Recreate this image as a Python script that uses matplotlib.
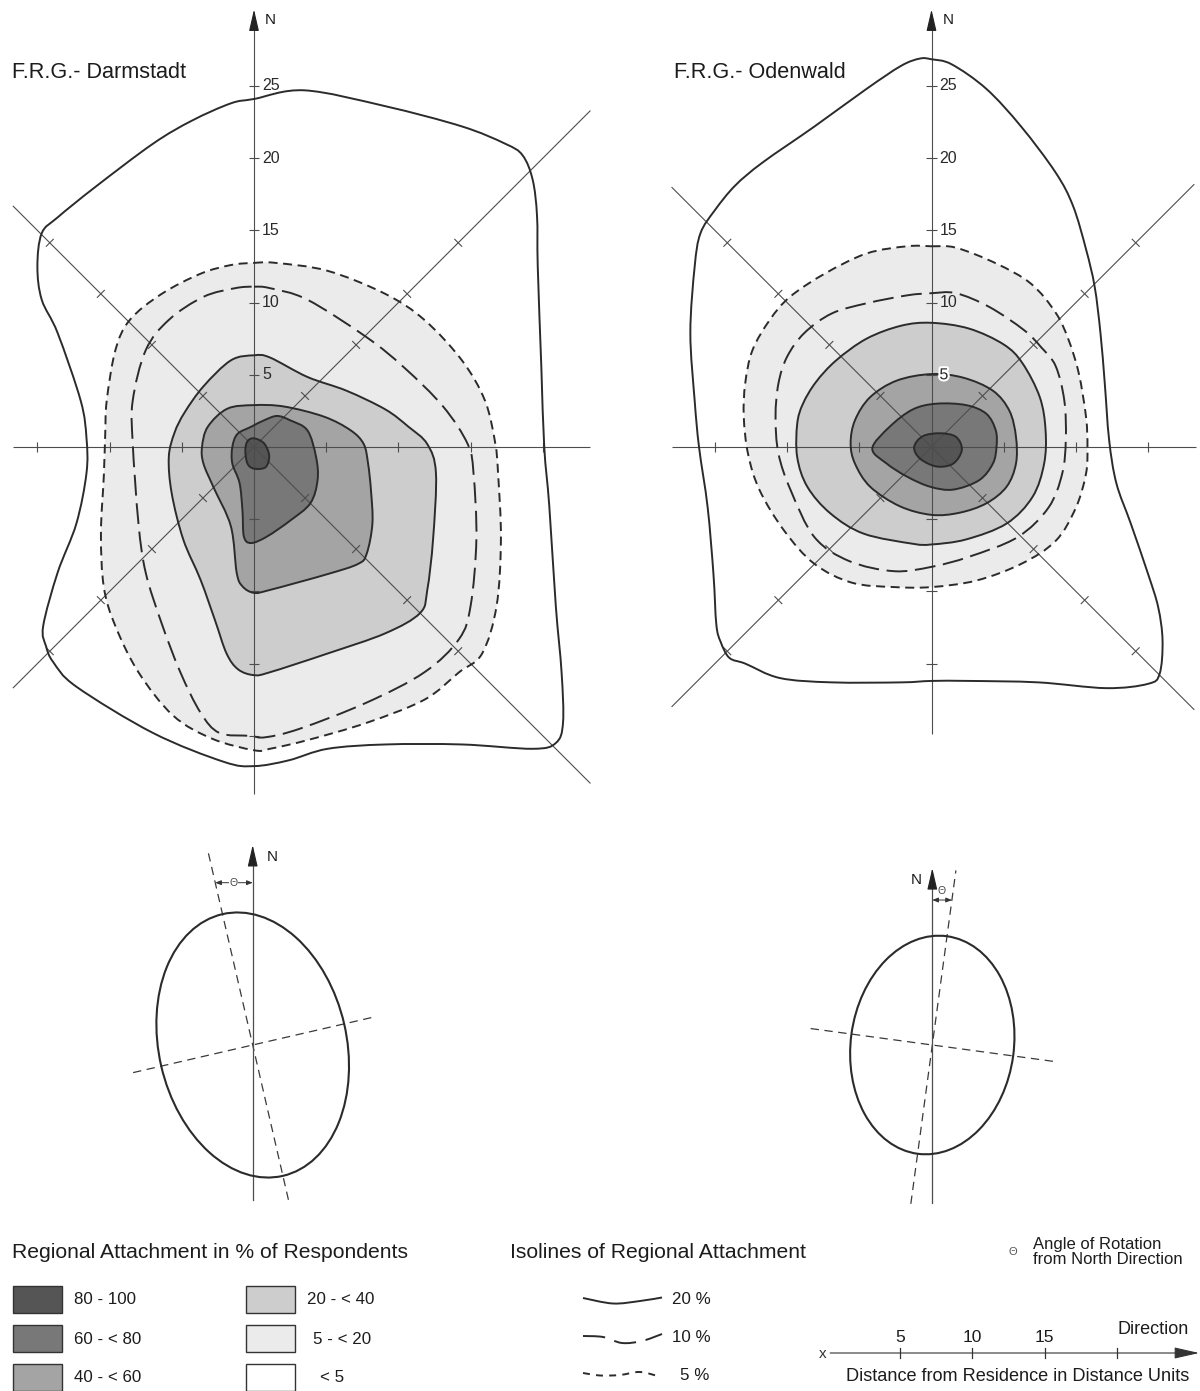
import numpy as np
import matplotlib
matplotlib.use('Agg')
import matplotlib.pyplot as plt
from matplotlib.path import Path
from matplotlib.patches import PathPatch, Ellipse, Rectangle
import matplotlib.patheffects as pe

plt.rcParams['font.family'] = ['Liberation Sans', 'DejaVu Sans']
plt.rcParams['lines.scale_dashes'] = False

W, H = 1200, 1391
S = 14.44  # pixels per distance unit

# ---------------- data (distance units: east, north) ----------------
DA_OUTER = [(0.0, 24.1), (3.5, 24.7), (9.1, 23.6), (14.4, 22.2), (17.4, 21.0), (18.6, 20.2),
            (19.3, 18.5), (19.6, 16.0), (19.65, 12.5), (19.9, 5.5), (20.1, 0.0), (20.45, -4.1),
            (20.9, -11.0), (21.3, -15.6), (21.4, -19.1), (20.9, -20.5), (19.3, -20.9), (14.4, -20.6),
            (9.1, -20.6), (5.1, -20.9), (2.4, -21.7), (0.0, -22.1), (-2.1, -21.8), (-7.0, -19.8),
            (-12.3, -16.6), (-13.9, -14.9), (-14.4, -13.8), (-14.6, -12.4), (-13.6, -8.7),
            (-12.3, -5.3), (-11.6, -1.8), (-11.6, 0.6), (-12.0, 3.2), (-13.6, 7.9), (-14.7, 10.2),
            (-15.0, 12.5), (-14.7, 14.8), (-13.6, 15.9), (-11.0, 18.0), (-7.0, 21.0), (-4.3, 22.6),
            (-1.6, 23.8)]
DA_ISO5 = [(0.0, 12.75), (1.5, 12.75), (5.1, 12.2), (9.1, 10.6), (11.8, 8.8), (14.4, 6.0),
           (16.0, 3.2), (16.7, 0.3), (16.9, -1.8), (17.1, -6.4), (16.8, -11.0), (15.8, -14.3),
           (14.2, -15.6), (11.8, -17.5), (7.8, -19.1), (3.7, -20.3), (1.1, -20.9), (0.0, -21.0),
           (-2.9, -20.2), (-5.6, -18.6), (-8.0, -15.6), (-9.6, -12.4), (-10.4, -9.7),
           (-10.6, -6.0), (-10.4, -2.0), (-10.3, 1.0), (-10.2, 3.2), (-9.6, 6.7), (-8.6, 8.8),
           (-6.4, 10.6), (-3.7, 12.0), (-1.6, 12.6)]
DA_ISO10 = [(0.0, 11.1), (1.1, 11.0), (3.7, 10.2), (7.8, 7.6), (10.4, 5.5), (13.1, 2.8),
            (14.8, 0.2), (15.2, -1.8), (15.4, -6.4), (15.0, -11.0), (14.2, -13.3), (11.8, -15.6),
            (7.8, -17.7), (3.2, -19.5), (0.8, -20.1), (-0.3, -20.0), (-2.4, -19.8), (-3.7, -18.4),
            (-5.1, -15.6), (-6.4, -12.2), (-7.5, -8.7), (-8.0, -5.3), (-8.4, 0.3), (-8.4, 3.2),
            (-7.5, 6.7), (-5.9, 8.8), (-3.5, 10.4), (-1.3, 11.0)]
DA_B20 = [(0.0, 6.35), (1.1, 6.2), (3.7, 4.85), (6.4, 3.9), (9.1, 2.6), (10.7, 1.4), (12.0, 0.2),
          (12.6, -1.8), (12.4, -6.4), (12.0, -9.9), (11.5, -11.5), (9.1, -12.9), (5.1, -14.3),
          (1.1, -15.6), (0.0, -15.8), (-1.1, -15.4), (-1.9, -14.3), (-2.7, -12.0), (-3.7, -9.2),
          (-4.9, -6.4), (-5.7, -3.2), (-5.9, -0.7), (-5.5, 1.0), (-4.8, 2.4), (-3.5, 4.2),
          (-1.6, 6.0)]
DA_B40 = [(0.0, 2.9), (2.1, 2.8), (4.85, 2.1), (6.7, 1.15), (7.6, 0.2), (7.9, -1.15), (8.1, -3.0),
          (8.2, -5.3), (7.8, -7.4), (7.2, -8.1), (5.1, -8.8), (1.1, -9.9), (0.0, -10.1),
          (-0.8, -9.65), (-1.2, -8.7), (-1.6, -5.5), (-2.8, -2.8), (-3.5, -1.15), (-3.6, 0.0),
          (-3.2, 1.4), (-1.85, 2.65)]
DA_B60 = [(1.6, 2.15), (2.5, 1.85), (3.7, 1.15), (4.3, -0.7), (4.4, -2.3), (3.9, -3.9), (2.5, -5.1),
          (0.9, -6.2), (-0.2, -6.65), (-0.7, -6.2), (-0.8, -4.4), (-1.0, -2.5), (-1.5, -1.15),
          (-1.5, 0.0), (-1.15, 0.9), (-0.2, 1.4), (0.7, 1.85)]
DA_B80 = [(0.0, 0.6), (0.7, 0.25), (1.05, -0.6), (0.8, -1.4), (0.0, -1.5), (-0.45, -1.15),
          (-0.6, -0.25), (-0.45, 0.4)]

OD_OUTER = [(0.0, 26.85), (1.4, 26.5), (3.8, 24.8), (6.2, 22.2), (8.6, 19.0), (9.8, 16.7),
            (10.7, 13.7), (11.3, 11.1), (11.7, 7.9), (12.0, 4.4), (12.3, 0.5), (12.8, -2.5),
            (13.8, -5.3), (15.0, -8.8), (15.7, -11.1), (16.0, -13.4), (15.8, -15.7), (15.0, -16.4),
            (12.1, -16.7), (7.4, -16.3), (2.6, -16.2), (0.0, -16.2), (-2.1, -16.3), (-6.9, -16.3),
            (-10.5, -16.0), (-12.9, -15.0), (-14.0, -14.6), (-14.6, -13.5), (-14.9, -12.3),
            (-15.1, -8.8), (-15.5, -4.2), (-16.1, 0.0), (-16.4, 3.2), (-16.7, 7.9), (-16.4, 12.5),
            (-16.0, 14.8), (-15.0, 16.4), (-13.6, 18.1), (-11.7, 19.7), (-8.1, 22.2), (-4.5, 24.8),
            (-2.1, 26.4), (-0.8, 26.9)]
OD_ISO5 = [(0.0, 13.9), (1.7, 13.8), (4.5, 12.7), (6.9, 11.3), (8.6, 9.3), (9.5, 7.4), (10.2, 5.1),
           (10.7, 2.1), (10.8, 0.0), (10.7, -1.85), (10.0, -4.2), (8.6, -6.5), (6.2, -8.1),
           (3.1, -9.25), (0.0, -9.7), (-2.6, -9.7), (-5.5, -9.4), (-8.1, -8.1), (-10.2, -5.8),
           (-11.9, -3.0), (-12.7, -0.5), (-13.0, 2.1), (-12.9, 4.4), (-12.4, 6.7), (-11.2, 8.8),
           (-9.8, 10.4), (-7.4, 12.0), (-4.5, 13.4), (-1.7, 13.9)]
OD_ISO10 = [(0.0, 10.65), (1.7, 10.65), (4.0, 9.7), (6.4, 8.1), (7.6, 6.9), (8.6, 5.6), (9.2, 3.2),
            (9.3, 0.5), (9.05, -1.85), (8.1, -4.2), (5.95, -6.25), (2.6, -7.6), (0.0, -8.3),
            (-2.6, -8.6), (-5.7, -7.9), (-8.1, -6.25), (-9.75, -3.0), (-10.6, -0.45), (-10.8, 2.1),
            (-10.6, 4.4), (-10.0, 6.25), (-8.8, 7.9), (-6.9, 9.25), (-4.5, 9.95), (-1.7, 10.5)]
OD_B20 = [(0.0, 8.6), (2.6, 8.2), (5.0, 7.1), (6.3, 5.8), (7.5, 3.45), (7.9, 1.15), (7.8, -1.15),
          (7.0, -3.45), (5.2, -5.3), (2.4, -6.4), (0.0, -6.75), (-1.3, -6.7), (-4.7, -6.0),
          (-7.0, -4.6), (-8.6, -2.75), (-9.3, -0.7), (-9.3, 1.6), (-8.9, 3.0), (-8.0, 4.5),
          (-6.6, 6.0), (-4.5, 7.5), (-2.1, 8.4)]
OD_B40 = [(0.0, 5.05), (2.2, 4.8), (4.25, 3.9), (5.4, 2.5), (5.85, 0.7), (5.85, -1.15), (5.2, -2.75),
          (3.8, -3.9), (1.95, -4.55), (0.0, -4.7), (-2.2, -4.1), (-4.25, -2.75), (-5.3, -1.15),
          (-5.6, 0.25), (-5.3, 1.85), (-4.25, 3.45), (-2.4, 4.6)]
OD_B60 = [(0.35, 3.0), (2.4, 2.9), (3.8, 2.3), (4.45, 1.15), (4.5, 0.0), (4.25, -1.15), (3.3, -2.3),
          (1.5, -2.95), (-0.1, -2.75), (-1.7, -2.05), (-3.1, -1.15), (-4.1, -0.1), (-2.9, 1.4),
          (-1.3, 2.6)]
OD_B80 = [(0.6, 0.95), (1.7, 0.7), (2.1, -0.2), (1.5, -1.15), (0.35, -1.35), (-0.8, -0.8),
          (-1.2, 0.0), (-0.6, 0.75)]

# axis tick distances
DA_HTICKS = [-15, -10, -5, 5, 10, 15, 20]
DA_VTICKS = [-20, -15, -10, -5, 5, 10, 15, 20, 25]
OD_HTICKS = [-15, -10, -5, 5, 10, 15]
OD_VTICKS = [-15, -10, -5, 5, 10, 15, 20, 25]
DIAG_TICKS = [5, 10, 15, 20]
N_LABELS = [5, 10, 15, 20, 25]

# deviational ellipses: semi-major, semi-minor (distance units), rotation from north (deg, + = west)
DA_ELL = (9.3, 6.5, 13.0)
OD_ELL = (7.6, 5.65, -7.7)

# legend
SHADE_LABELS = ['80 - 100', '60 - < 80', '40 - < 60', '20 - < 40', '5 - < 20', '< 5']
SHADE_COLORS = ['#555555', '#787878', '#a4a4a4', '#cdcdcd', '#ebebeb', '#ffffff']
ISO_LABELS = ['20 %', '10 %', '5 %']
SCALE_TICKS = [5, 10, 15, 20]
SCALE_LABELS = ['5', '10', '15', '']

LINE_COL = '#2b2b2b'
AX_COL = '#4d4d4d'
TXT_COL = '#1c1c1c'
SHORT_DASH = (0, (6.5, 4.0))
LONG_DASH = (0, (15.0, 5.5))

fig = plt.figure(figsize=(W / 100, H / 100), dpi=100)


def px_axes(x0, y0, x1, y1, cx, cy):
    ax = fig.add_axes([x0 / W, 1 - y1 / H, (x1 - x0) / W, (y1 - y0) / H])
    ax.set_xlim((x0 - cx) / S, (x1 - cx) / S)
    ax.set_ylim((cy - y1) / S, (cy - y0) / S)
    ax.set_axis_off()
    return ax


def smooth_path(pts, closed=True):
    P = np.asarray(pts, float)
    n = len(P)
    verts = [P[0]]
    codes = [Path.MOVETO]
    rng = range(n) if closed else range(n - 1)
    for i in rng:
        if closed:
            p0, p1, p2, p3 = P[(i - 1) % n], P[i], P[(i + 1) % n], P[(i + 2) % n]
        else:
            p0, p1, p2, p3 = P[max(i - 1, 0)], P[i], P[i + 1], P[min(i + 2, n - 1)]
        verts += [p1 + (p2 - p0) / 6.0, p2 - (p3 - p1) / 6.0, p2]
        codes += [Path.CURVE4] * 3
    if closed:
        verts.append(P[0])
        codes.append(Path.CLOSEPOLY)
    return Path(verts, codes)


def draw_map(ax, outer, iso5, iso10, bounds, hext, vext, dext, hticks, vticks, halo5):
    # shaded classes
    ax.add_patch(PathPatch(smooth_path(iso5), facecolor=SHADE_COLORS[4], edgecolor='none', zorder=1))
    for pts, col in zip(bounds, SHADE_COLORS[3::-1]):
        ax.add_patch(PathPatch(smooth_path(pts), facecolor=col, edgecolor='none', zorder=1.1))
    # axes
    kw = dict(color=AX_COL, lw=0.8, zorder=2, solid_capstyle='butt')
    ax.plot(hext, [0, 0], **kw)
    ax.plot([dext[0], dext[1]], [-dext[0], -dext[1]], **kw)
    ax.plot([dext[0], dext[1]], [dext[0], dext[1]], **kw)
    ax.plot([0, 0], [vext[0], vext[1] - 1.0], **kw)
    ax.annotate('', xy=(0, vext[1]), xytext=(0, vext[1] - 1.3),
                arrowprops=dict(arrowstyle='-|>,head_length=0.95,head_width=0.22', mutation_scale=14,
                                color='#222222', lw=0.8, shrinkA=0, shrinkB=0), zorder=2)
    ax.text(0.75, vext[1] - 0.7, 'N', fontsize=11, ha='left', va='center', color=TXT_COL)
    t = 0.38
    for u in hticks:
        ax.plot([u, u], [-t, t], **kw)
    for v in vticks:
        ax.plot([-t, t], [v, v], **kw)
    r2 = np.sqrt(0.5)
    for d in DIAG_TICKS:
        for sx, sy in [(1, 1), (1, -1), (-1, 1), (-1, -1)]:
            cx, cy = sx * d * r2, sy * d * r2
            px, py = -sy * r2 * t, sx * r2 * t
            ax.plot([cx - px, cx + px], [cy - py, cy + py], **kw)
    for v in N_LABELS:
        txt = ax.text(0.55, v, str(v), fontsize=11.5, ha='left', va='center', color='#2a2a2a', zorder=4)
        if halo5 and v == 5:
            txt.set_path_effects([pe.withStroke(linewidth=3, foreground='white')])
    # isolines
    for pts in bounds:
        ax.add_patch(PathPatch(smooth_path(pts), fill=False, edgecolor=LINE_COL, lw=1.4, zorder=3))
    ax.add_patch(PathPatch(smooth_path(outer), fill=False, edgecolor=LINE_COL, lw=1.4, zorder=3))
    ax.add_patch(PathPatch(smooth_path(iso10), fill=False, edgecolor=LINE_COL, lw=1.4,
                           linestyle=LONG_DASH, zorder=3))
    ax.add_patch(PathPatch(smooth_path(iso5), fill=False, edgecolor=LINE_COL, lw=1.4,
                           linestyle=SHORT_DASH, zorder=3))


# ---------------- main maps ----------------
axA = px_axes(0, 0, 600, 810, 254, 447)
draw_map(axA, DA_OUTER, DA_ISO5, DA_ISO10, [DA_B20, DA_B40, DA_B60, DA_B80],
         (-16.7, 23.3), (-24.0, 30.3), (-16.7, 23.3), DA_HTICKS, DA_VTICKS, False)
axB = px_axes(660, 0, 1200, 750, 931.5, 447)
draw_map(axB, OD_OUTER, OD_ISO5, OD_ISO10, [OD_B20, OD_B40, OD_B60, OD_B80],
         (-18.0, 18.3), (-19.9, 30.3), (-18.0, 18.2), OD_HTICKS, OD_VTICKS, True)

fig.text(12 / W, 1 - 72 / H, 'F.R.G.- Darmstadt', fontsize=15.6, ha='left', va='center', color=TXT_COL)
fig.text(674 / W, 1 - 72 / H, 'F.R.G.- Odenwald', fontsize=15.6, ha='left', va='center', color=TXT_COL)


# ---------------- ellipses ----------------
def draw_ellipse(ax, ell, major_ext, minor_ext, nexts, theta_v, left_n):
    a, b, th = ell
    ax.add_patch(Ellipse((0, 0), 2 * b, 2 * a, angle=th, fill=False, edgecolor=LINE_COL, lw=1.5, zorder=3))
    rad = np.deg2rad(th)
    mj = np.array([-np.sin(rad), np.cos(rad)])
    mn = np.array([np.cos(rad), np.sin(rad)])
    dash = (0, (6.0, 4.0))
    ax.plot([mj[0] * major_ext[0], mj[0] * major_ext[1]], [mj[1] * major_ext[0], mj[1] * major_ext[1]],
            color='#3a3a3a', lw=0.9, linestyle=dash)
    ax.plot([mn[0] * minor_ext[0], mn[0] * minor_ext[1]], [mn[1] * minor_ext[0], mn[1] * minor_ext[1]],
            color='#3a3a3a', lw=0.9, linestyle=dash)
    ax.plot([0, 0], [nexts[0], nexts[1] - 1.0], color=AX_COL, lw=0.9)
    ax.annotate('', xy=(0, nexts[1]), xytext=(0, nexts[1] - 1.3),
                arrowprops=dict(arrowstyle='-|>,head_length=0.95,head_width=0.22', mutation_scale=14,
                                color='#222222', lw=0.8, shrinkA=0, shrinkB=0))
    if left_n:
        ax.text(-0.75, nexts[1] - 0.85, 'N', fontsize=11, ha='right', va='center', color=TXT_COL)
    else:
        ax.text(0.95, nexts[1] - 0.85, 'N', fontsize=11, ha='left', va='center', color=TXT_COL)
    xm = theta_v * mj[0] / mj[1]
    ax.annotate('', xy=(xm, theta_v), xytext=(0, theta_v),
                arrowprops=dict(arrowstyle='<|-|>,head_length=0.5,head_width=0.2', mutation_scale=7,
                                color='#333333', lw=0.7, shrinkA=0, shrinkB=0))
    if th > 0:
        ax.text(xm / 2, theta_v, 'Θ', fontsize=7.5, ha='center', va='center', color='#444444',
                bbox=dict(facecolor='white', edgecolor='none', pad=0.3))
    else:
        ax.text(xm / 2 - 0.05, theta_v + 0.6, 'Θ', fontsize=7.5, ha='center', va='center', color='#444444')


axC = px_axes(100, 835, 420, 1215, 252.7, 1045)
draw_ellipse(axC, DA_ELL, (-11.0, 13.7), (-8.5, 8.6), (-10.75, 13.85), 11.24, False)
axD = px_axes(780, 845, 1100, 1215, 932.3, 1045)
draw_ellipse(axD, OD_ELL, (-11.1, 12.2), (-8.5, 8.7), (-10.95, 12.25), 10.04, True)

# ---------------- legend ----------------
lg = fig.add_axes([0, 0, 1, 170 / H])
lg.set_xlim(0, W)
lg.set_ylim(H, H - 170)
lg.set_axis_off()

lg.text(12, 1252, 'Regional Attachment in % of Respondents', fontsize=15.2, ha='left', va='center', color=TXT_COL)
lg.text(510, 1252, 'Isolines of Regional Attachment', fontsize=15.2, ha='left', va='center', color=TXT_COL)

box_x = [12.7, 12.7, 12.7, 245.7, 245.7, 245.7]
box_y = [1286, 1325, 1364, 1286, 1325, 1364]
lab_x = [74, 74, 74, 307, 313, 320]
for i, (lab, col) in enumerate(zip(SHADE_LABELS, SHADE_COLORS)):
    lg.add_patch(Rectangle((box_x[i], box_y[i]), 49, 27, facecolor=col, edgecolor='#333333', lw=1.0))
    lg.text(lab_x[i], box_y[i] + 14, lab, fontsize=12.2, ha='left', va='center', color=TXT_COL)

leg_curves = [
    [(583, 1298), (613, 1303.5), (640, 1301), (662, 1297.5)],
    [(583, 1336), (603, 1337), (622, 1343), (642, 1341), (662, 1334)],
    [(583, 1373), (600, 1375.5), (620, 1375), (640, 1372), (661, 1377)],
]
leg_styles = ['-', (0, (16.0, 7.0)), (0, (5.0, 4.5))]
leg_lab_x = [672, 672, 680]
leg_lab_y = [1300, 1338, 1375]
for pts, ls, lab, lx, ly in zip(leg_curves, leg_styles, ISO_LABELS, leg_lab_x, leg_lab_y):
    lg.add_patch(PathPatch(smooth_path(pts, closed=False), fill=False, edgecolor=LINE_COL, lw=1.4,
                           linestyle=ls))
    lg.text(lx, ly, lab, fontsize=12.2, ha='left', va='center', color=TXT_COL)

lg.text(1013, 1252, 'Θ', fontsize=8, ha='center', va='center', color='#555555')
lg.text(1033, 1244.5, 'Angle of Rotation', fontsize=12, ha='left', va='center', color=TXT_COL)
lg.text(1033, 1260, 'from North Direction', fontsize=12, ha='left', va='center', color=TXT_COL)

# scale bar
sb = px_axes(805, 1320, 1200, 1391, 828, 1353)
sb.annotate('', xy=(25.7, 0), xytext=(0.15, 0),
            arrowprops=dict(arrowstyle='-|>,head_length=1.1,head_width=0.25', mutation_scale=14,
                            color='#333333', lw=0.8, shrinkA=0, shrinkB=0))
sb.text(-0.35, -0.05, 'x', fontsize=11, ha='center', va='center', color='#333333')
for tk, tl in zip(SCALE_TICKS, SCALE_LABELS):
    sb.plot([tk, tk], [-0.38, 0.38], color='#333333', lw=0.9)
    if tl:
        sb.text(tk, 1.05, tl, fontsize=12.5, ha='center', va='center', color=TXT_COL)
sb.text(25.0, 1.65, 'Direction', fontsize=13, ha='right', va='center', color=TXT_COL)
sb.text(25.0, -1.65, 'Distance from Residence in Distance Units', fontsize=13.1, ha='right',
        va='center', color=TXT_COL)

fig.savefig('out.png', dpi=100, facecolor='white')
